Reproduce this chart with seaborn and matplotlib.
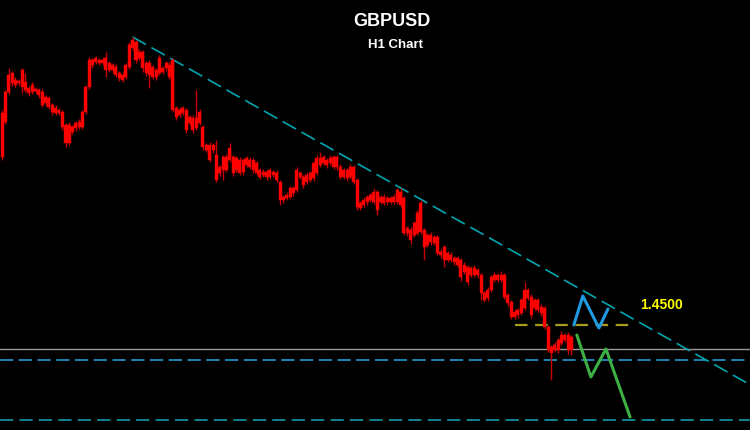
import numpy as np
import pandas as pd
import matplotlib
matplotlib.use("Agg")
import matplotlib.pyplot as plt
import seaborn as sns

# ---------------- data (GBPUSD H1 candles) ----------------
open_ = [
    1.4836, 1.4906, 1.4966, 1.4984, 1.4990, 1.4984, 1.4976, 1.4986, 1.4974, 1.4966,
    1.4972, 1.4970, 1.4966, 1.4944, 1.4954, 1.4940, 1.4934, 1.4924, 1.4926, 1.4900,
    1.4864, 1.4896, 1.4894, 1.4906, 1.4896, 1.4926, 1.4976, 1.5030, 1.5026,
    1.5030, 1.5024, 1.5034, 1.5010, 1.5020, 1.5016, 1.5004, 1.5000, 1.4996, 1.5016,
    1.5054, 1.5066, 1.5034, 1.5046, 1.5024, 1.5000, 1.5016, 1.4996, 1.5004, 1.5014,
    1.5014, 1.5020, 1.5030, 1.4934, 1.4920, 1.4934, 1.4930, 1.4904, 1.4914, 1.4894,
    1.4904, 1.4896, 1.4860, 1.4860, 1.4850, 1.4840, 1.4804, 1.4810, 1.4836, 1.4830,
    1.4836, 1.4810, 1.4830, 1.4806, 1.4820, 1.4830, 1.4810, 1.4824, 1.4810, 1.4800,
    1.4806, 1.4796, 1.4806, 1.4804, 1.4786, 1.4756, 1.4754, 1.4756, 1.4764, 1.4770,
    1.4804, 1.4796, 1.4786, 1.4790, 1.4794, 1.4804, 1.4834, 1.4824, 1.4830, 1.4824,
    1.4836, 1.4816, 1.4816, 1.4796, 1.4810, 1.4796, 1.4816, 1.4790, 1.4744, 1.4740,
    1.4756, 1.4750, 1.4746, 1.4766, 1.4746, 1.4756, 1.4746, 1.4754, 1.4746, 1.4746,
    1.4766, 1.4754, 1.4694, 1.4690, 1.4680, 1.4684, 1.4686, 1.4690, 1.4660, 1.4680,
    1.4676, 1.4676, 1.4646, 1.4656, 1.4630, 1.4640, 1.4634, 1.4634, 1.4630, 1.4606,
    1.4616, 1.4600, 1.4614, 1.4600,
    1.4600, 1.4564, 1.4554, 1.4570, 1.4590, 1.4600, 1.4590, 1.4600, 1.4560, 1.4546,
    1.4516, 1.4530, 1.4524, 1.4534, 1.4570, 1.4556, 1.4534, 1.4550, 1.4536, 1.4534,
    1.4496, 1.4456, 1.4450, 1.4470, 1.4464, 1.4480, 1.4450, 1.4476,
]
close = [
    1.4924, 1.4966, 1.5000, 1.5004, 1.4980, 1.4988, 1.5010, 1.4970, 1.4964, 1.4980,
    1.4968, 1.4960, 1.4940, 1.4956, 1.4936, 1.4926, 1.4924, 1.4930, 1.4896, 1.4864,
    1.4900, 1.4886, 1.4904, 1.4896, 1.4926, 1.4976, 1.5030, 1.5020, 1.5034,
    1.5024, 1.5030, 1.5010, 1.5024, 1.5010, 1.5000, 1.4994, 1.4990, 1.5020, 1.5060,
    1.5070, 1.5030, 1.5046, 1.5014, 1.5004, 1.5024, 1.4996, 1.5010, 1.5034, 1.5006,
    1.5024, 1.4996, 1.4930, 1.4916, 1.4930, 1.4924, 1.4890, 1.4916, 1.4890, 1.4914,
    1.4926, 1.4856, 1.4850, 1.4830, 1.4860, 1.4790, 1.4816, 1.4836, 1.4810, 1.4854,
    1.4804, 1.4834, 1.4804, 1.4830, 1.4834, 1.4816, 1.4830, 1.4804, 1.4796, 1.4806,
    1.4796, 1.4810, 1.4800, 1.4790, 1.4750, 1.4750, 1.4760, 1.4774, 1.4774, 1.4810,
    1.4796, 1.4780, 1.4800, 1.4804, 1.4824, 1.4834, 1.4820, 1.4836, 1.4820, 1.4834,
    1.4816, 1.4836, 1.4796, 1.4810, 1.4794, 1.4816, 1.4786, 1.4736, 1.4734, 1.4750,
    1.4746, 1.4760, 1.4766, 1.4730, 1.4756, 1.4744, 1.4754, 1.4746, 1.4756, 1.4770,
    1.4740, 1.4684, 1.4684, 1.4670, 1.4704, 1.4724, 1.4744, 1.4656, 1.4680, 1.4666,
    1.4664, 1.4644, 1.4640, 1.4630, 1.4644, 1.4630, 1.4626, 1.4620, 1.4596, 1.4620,
    1.4586, 1.4614, 1.4600, 1.4610,
    1.4564, 1.4550, 1.4570, 1.4596, 1.4600, 1.4590, 1.4600, 1.4556, 1.4544, 1.4516,
    1.4526, 1.4520, 1.4550, 1.4570, 1.4554, 1.4520, 1.4550, 1.4530, 1.4524, 1.4496,
    1.4450, 1.4444, 1.4460, 1.4450, 1.4480, 1.4470, 1.4480, 1.4450,
]
wick_up_pips = [
    6, 4, 14, 4, 6, 4, 4, 18, 4, 6, 4, 4, 6, 4, 4, 4, 6, 4, 4, 4, 6, 4, 4, 6, 4, 4, 6, 4, 4,
    4, 6, 12, 4, 4, 6, 4, 4, 4, 6, 6, 4, 6, 4, 4, 6, 4, 4, 6, 4, 4, 6, 4, 4, 6, 4, 4, 4, 6, 56,
    6, 4, 4, 6, 4, 30, 4, 4, 6, 10, 4, 4, 6, 4, 4, 6, 4, 4, 4, 6, 4, 4, 4, 6, 4, 4, 6, 4, 4, 6,
    4, 4, 6, 4, 4, 6, 12, 4, 4, 6, 4, 4, 6, 4, 4, 6, 4, 4, 4, 6, 4, 4, 8, 4, 4, 6, 4, 4, 6, 4,
    8, 4, 4, 6, 4, 6, 6, 4, 4, 6, 4, 4, 6, 4, 4, 6, 4, 4, 4, 6, 4, 4, 6, 4,
    4, 4, 6, 4, 6, 4, 8, 4, 4, 4, 6, 4, 4, 16, 4, 6, 4, 4, 6, 4, 4, 4, 6, 4, 8, 4, 6, 4,
]
wick_dn_pips = [
    6, 4, 4, 6, 4, 4, 12, 4, 6, 4, 4, 6, 4, 6, 4, 6, 4, 4, 6, 8, 4, 4, 6, 4, 4, 4, 4, 6, 4,
    4, 4, 14, 4, 6, 4, 6, 4, 4, 4, 4, 6, 4, 8, 6, 26, 4, 6, 4, 4, 6, 4, 4, 6, 4, 4, 6, 4, 6, 4,
    4, 6, 4, 4, 6, 4, 6, 20, 4, 4, 6, 4, 4, 6, 4, 4, 6, 4, 4, 4, 6, 4, 4, 4, 10, 6, 4, 4, 6, 4,
    4, 6, 4, 4, 6, 4, 4, 4, 6, 4, 4, 6, 4, 4, 6, 4, 4, 6, 4, 4, 6, 4, 4, 10, 4, 4, 6, 4, 4, 4,
    4, 4, 6, 8, 4, 4, 4, 26, 4, 6, 4, 4, 6, 14, 4, 4, 6, 4, 8, 4, 6, 4, 4, 6,
    14, 4, 6, 4, 4, 4, 4, 4, 6, 4, 4, 6, 4, 4, 4, 6, 4, 4, 6, 4, 4, 54, 4, 6, 4, 4, 8, 10,
]

# levels and drawn projections (x in candle index units, y in price)
level_label = "1.4500"
level_1450 = 1.4500
level_1450_x = [153.1, 189.0]
grey_level = 1.4452
support_1 = 1.4430
support_2 = 1.4310
trend_x = [39.0, 224.0]
trend_y = [1.5076, 1.4378]
blue_x = [170.7, 173.4, 178.2, 180.9]
blue_y = [1.4500, 1.4558, 1.4494, 1.4532]
green_x = [171.6, 175.8, 180.3, 187.5]
green_y = [1.4480, 1.4396, 1.4452, 1.4316]
title_main = "GBPUSD"
title_sub = "H1 Chart"

# ---------------- style ----------------
sns.set_style("dark", {"axes.facecolor": "black", "figure.facecolor": "black"})
plt.rcParams['font.family'] = ['Liberation Sans', 'DejaVu Sans']
plt.rcParams['lines.scale_dashes'] = False

df = pd.DataFrame({"open": open_, "close": close,
                   "wu": wick_up_pips, "wd": wick_dn_pips})
df["i"] = np.arange(len(df))
df["top"] = df[["open", "close"]].max(axis=1)
df["bot"] = df[["open", "close"]].min(axis=1)
df["high"] = df["top"] + df["wu"] / 10000.0
df["low"] = df["bot"] - df["wd"] / 10000.0

fig = plt.figure(figsize=(7.5, 4.3), dpi=100, facecolor="black")
ax = fig.add_axes([0, 0, 1, 1])
ax.set_facecolor("black")

# horizontal levels
ax.axhline(grey_level, color="#9a9a9a", lw=1.0, zorder=1)
ax.axhline(support_1, color="#1f8fc4", lw=1.3, linestyle=(0, (9.5, 4.0)), zorder=1)
ax.axhline(support_2, color="#138e9e", lw=1.3, linestyle=(0, (9.5, 4.5)), zorder=1)

# candles
ax.vlines(df["i"], df["low"], df["high"], color="#c80000", lw=1.0, zorder=3)
ax.bar(df["i"], df["top"] - df["bot"], bottom=df["bot"], width=0.9,
       color="#ff0000", edgecolor="#ff0000", linewidth=0.3, zorder=4)

# trendline
ax.plot(trend_x, trend_y, color="#00a6b0", lw=1.2,
        linestyle=(0, (11.0, 4.5)), zorder=2)

# 1.4500 level
ax.plot(level_1450_x, [level_1450, level_1450], color="#a89c1c", lw=1.6,
        linestyle=(0, (9.0, 5.5)), zorder=2)

# projections
sns.lineplot(x=blue_x, y=blue_y, ax=ax, color="#1e9be0", lw=2.2,
             sort=False, estimator=None, zorder=5)
sns.lineplot(x=green_x, y=green_y, ax=ax, color="#3cb043", lw=2.2,
             sort=False, estimator=None, zorder=5)

ax.text(190.4, 1.4540, level_label, color="#ffff00", fontsize=10,
        fontweight="bold", ha="left", va="center")

fig.text(0.523, 0.949, title_main, color="white", fontsize=13,
         fontweight="bold", ha="center", va="center")
fig.text(0.527, 0.895, title_sub, color="white", fontsize=9.5,
         fontweight="bold", ha="center", va="center")

ax.set_xlim(-0.6, 223.3)
ax.set_ylim(1.4290, 1.5150)
ax.grid(False)
ax.set_xticks([])
ax.set_yticks([])
for s in ax.spines.values():
    s.set_visible(False)
ax.set_xlabel("")
ax.set_ylabel("")

fig.savefig("out.png", dpi=100, facecolor="black")
